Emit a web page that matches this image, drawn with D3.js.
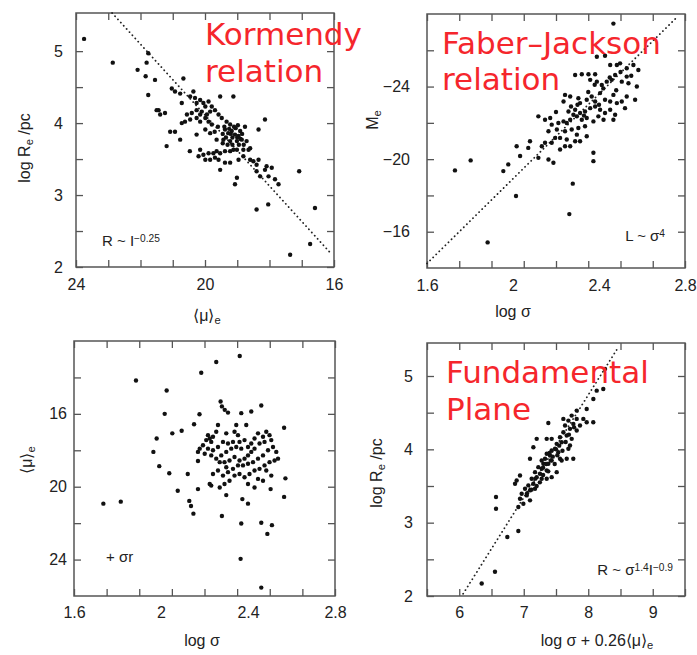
<!DOCTYPE html>
<html>
<head>
<meta charset="utf-8">
<script src="https://cdn.jsdelivr.net/npm/d3@7"></script>
<style>
  body { margin: 0; background: #fff; }
  svg text { font-family: "Liberation Sans", Arial, sans-serif; fill: #222; }
  .red { font-family: "DejaVu Sans", Verdana, sans-serif !important; fill: #f5262c !important; }
</style>
</head>
<body>
<div id="chart"></div>
<script>
// Kormendy relation: <mu>_e vs log R_e
const kormendyPts = [
  [23.75,5.17],[22.86,4.84],[22.09,4.74],[21.81,4.84],[21.76,4.97],[21.84,4.65],[21.76,4.39],[20.36,4.44],[20.26,3.84],[20.47,3.61],
  [18.40,2.80],[18.04,2.87],[17.08,3.33],[16.59,2.82],[16.74,2.32],[17.36,2.17],[17.93,3.38],
  [21.55,4.60],[21.03,4.48],[20.93,4.44],[20.77,4.41],[20.67,4.62],[20.72,4.28],[21.44,4.18],[21.24,4.14],[20.46,4.37],[20.31,4.35],
  [20.26,4.28],[20.15,4.32],[20.05,4.28],[19.99,4.23],[19.89,4.30],[19.79,4.23],[19.84,4.16],[19.69,4.18],[19.58,4.12],[19.53,4.37],
  [19.12,4.37],[19.48,4.07],[19.33,4.02],[19.22,3.98],[19.38,3.91],[19.17,3.89],[19.07,3.84],[18.96,3.82],[18.91,3.89],[18.76,3.95],
  [18.86,3.77],[19.01,3.75],[19.22,3.75],[19.43,3.77],[19.64,3.77],[19.84,3.86],[19.99,3.91],[19.79,3.98],[19.89,4.02],[20.15,4.02],
  [19.99,4.07],[20.26,4.07],[20.46,4.05],[20.62,4.02],[20.72,4.00],[20.56,4.12],[20.41,4.14],[20.26,4.18],[20.15,4.12],[20.10,4.16],
  [19.94,4.12],[18.14,4.05],[18.34,3.91],[18.71,3.75],[18.60,3.65],[18.65,3.63],[18.81,3.63],[19.01,3.63],[19.12,3.63],[19.22,3.61],
  [19.38,3.61],[19.53,3.58],[19.64,3.61],[19.74,3.58],[19.89,3.58],[20.05,3.56],[20.15,3.63],[20.20,3.54],[19.99,3.49],[19.84,3.49],
  [19.69,3.52],[19.58,3.49],[19.38,3.45],[19.22,3.45],[18.96,3.49],[18.81,3.54],[18.60,3.49],[18.50,3.47],[18.40,3.42],[18.34,3.49],
  [18.09,3.40],[18.14,3.35],[18.40,3.33],[18.29,3.26],[18.03,3.26],[17.83,3.22],[17.72,3.15],[19.53,3.35],[19.01,3.24],[19.07,3.15],
  [21.08,3.88],[20.93,3.88],[20.77,3.77],[21.19,3.68],[21.39,4.12],[21.50,4.18],
  [19.28,3.86],[19.15,3.80],[19.05,3.93],[19.30,3.70],[18.95,3.70],[19.45,3.85],[18.85,3.85],
  [19.40,3.95],[19.25,3.92],[19.10,3.95],[18.98,3.97],[19.35,3.80],[19.20,3.85],[19.00,3.80],[18.90,3.78],[19.45,3.72],[19.15,3.70],
  [18.80,3.70],[19.60,3.95],[19.70,3.88]
];
const kormendyFit = [[22.88,5.53],[16.12,2.2]];

// Faber-Jackson relation: log sigma vs M_e
const faberPts = [
  [2.467,-27.47],[1.730,-19.38],[1.803,-19.93],[1.882,-15.41],[2.014,-17.97],[2.262,-16.97],[2.278,-18.65],[1.955,-19.34],[1.978,-19.71],
  [2.390,-25.64],[2.428,-25.70],[2.452,-25.19],[2.483,-25.19],[2.498,-25.28],[2.529,-25.01],[2.560,-25.19],[2.583,-24.91],[2.529,-24.55],
  [2.506,-24.27],[2.537,-24.18],[2.576,-24.00],[2.475,-24.64],[2.459,-24.37],[2.436,-24.27],[2.413,-24.09],[2.390,-24.27],[2.359,-24.37],
  [2.289,-24.64],[2.320,-24.68],[2.351,-24.68],[2.382,-24.68],[2.242,-23.54],[2.235,-23.18],[2.266,-23.45],[2.304,-23.36],[2.312,-23.09],
  [2.343,-23.27],[2.366,-23.45],[2.382,-23.18],[2.405,-23.64],[2.428,-23.27],[2.452,-23.18],[2.467,-23.54],[2.483,-23.09],[2.506,-23.18],
  [2.529,-23.45],[2.568,-23.27],[2.521,-22.81],[2.258,-22.63],[2.289,-22.72],[2.312,-22.54],[2.335,-22.63],[2.359,-22.81],[2.382,-22.90],
  [2.405,-22.72],[2.428,-22.54],[2.452,-22.72],[2.475,-22.45],[2.421,-22.17],[2.397,-22.36],[2.374,-22.08],[2.343,-22.27],[2.320,-22.17],
  [2.297,-22.36],[2.281,-22.45],[2.266,-22.17],[2.250,-21.99],[2.467,-22.17],[2.118,-22.36],[2.149,-22.17],[2.173,-22.27],[2.180,-21.90],
  [2.211,-21.99],[2.235,-22.08],[2.204,-21.63],[2.242,-21.54],[2.273,-21.63],[2.304,-21.72],[2.335,-21.81],[2.165,-21.54],[2.196,-21.17],
  [2.219,-21.17],[2.250,-21.08],[2.289,-20.99],[2.266,-20.71],[2.242,-20.71],[2.219,-20.53],[2.180,-20.90],[2.149,-20.90],[2.134,-20.71],
  [2.312,-20.99],[2.343,-21.26],[2.297,-21.35],[2.017,-20.71],[2.079,-20.99],[2.071,-20.62],[2.033,-20.17],[2.118,-20.07],[2.165,-19.98],
  [2.374,-20.35],[2.374,-19.89],[2.188,-19.80],
  [2.45,-24.5],[2.50,-24.8],[2.42,-23.9],[2.48,-23.8],[2.35,-23.7],[2.30,-23.0],[2.40,-23.0],[2.33,-22.4],[2.27,-22.9],[2.55,-24.6],
  [2.20,-22.6],[2.38,-24.1]
];
const faberFit = [[1.6,-14.25],[2.765,-27.85]];

// <mu>_e vs log sigma
const muSigmaPts = [
  [1.735,20.93],[1.815,20.82],[1.885,14.17],[2.026,14.72],[2.017,16.0],[1.980,17.35],[1.965,18.09],[1.992,18.87],[2.038,19.26],[2.052,17.07],
  [2.095,16.93],[2.077,20.22],[2.123,19.30],[2.130,20.78],[2.138,21.06],[2.149,21.48],[2.152,16.57],[2.177,16.02],[2.170,20.13],[2.170,18.59],
  [2.185,13.74],[2.254,13.15],[2.362,12.82],[2.280,21.61],[2.366,23.96],[2.461,25.54],[2.369,22.02],[2.461,21.98],[2.489,22.59],[2.510,22.11],
  [2.566,20.56],[2.572,19.54],[2.566,16.76],[2.461,15.54],[2.415,15.87],[2.369,15.96],[2.274,15.32],[2.280,15.59],[2.293,15.78],[2.308,15.93],
  [2.504,20.13],[2.374,20.68],[2.400,20.93],[2.300,20.46],[2.231,19.94],
  [2.262,16.61],[2.254,16.98],[2.216,17.17],[2.224,17.35],[2.239,17.26],[2.208,17.44],[2.231,17.54],[2.300,17.07],[2.338,16.98],[2.354,17.17],
  [2.346,16.61],[2.392,16.61],[2.384,17.44],[2.361,17.54],[2.331,17.54],[2.308,17.63],[2.285,17.54],[2.262,17.82],[2.239,18.00],[2.216,17.91],
  [2.193,17.72],[2.178,17.91],[2.170,18.09],[2.201,18.19],[2.231,18.28],[2.254,18.46],[2.277,18.28],[2.300,18.09],[2.323,17.91],[2.346,17.82],
  [2.369,17.91],[2.400,17.82],[2.415,17.63],[2.430,17.35],[2.446,17.07],[2.469,17.26],[2.484,16.98],[2.499,17.17],[2.476,17.54],[2.453,17.63],
  [2.430,17.91],[2.415,18.09],[2.400,18.28],[2.384,18.46],[2.361,18.56],[2.338,18.37],[2.315,18.56],[2.292,18.65],[2.270,18.65],[2.300,18.93],
  [2.308,19.20],[2.285,19.39],[2.262,19.11],[2.239,19.30],[2.331,19.02],[2.354,18.83],[2.377,18.83],[2.400,18.74],[2.423,18.65],[2.446,18.46],
  [2.469,18.28],[2.492,18.00],[2.515,17.82],[2.507,17.44],[2.530,18.09],[2.538,18.46],[2.522,18.56],[2.499,18.65],[2.476,18.83],[2.453,19.02],
  [2.430,19.11],[2.407,19.30],[2.384,19.48],[2.361,19.30],[2.338,19.39],[2.315,19.67],[2.292,19.85],[2.270,20.04],[2.224,19.85],[2.400,19.85],
  [2.430,20.04],[2.446,19.57],[2.469,19.67],[2.484,19.11],[2.507,19.39]
];

// Fundamental plane: log sigma + 0.26<mu>_e vs log R_e
const fpPts = [
  [6.570,3.350],[6.570,3.190],[6.554,2.330],[6.348,2.170],[6.745,2.805],[6.916,2.887],[8.078,4.370],[8.131,4.800],[8.233,4.823],[8.260,5.095],
  [7.381,4.36],[7.201,4.143],[7.768,3.871],
  [7.821,4.528],[7.743,4.460],[7.821,4.415],[7.692,4.392],[7.769,4.347],[7.640,4.324],[7.717,4.279],[7.614,4.233],[7.666,4.188],[7.562,4.165],
  [7.588,4.097],[7.511,4.075],[7.485,4.007],[7.433,3.984],[7.536,3.961],[7.407,3.916],[7.356,3.939],[7.330,3.871],[7.433,3.848],[7.381,3.803],
  [7.304,3.803],[7.278,3.735],[7.226,3.757],[7.356,3.712],[7.252,3.667],[7.175,3.689],[7.201,3.621],[7.278,3.599],[7.123,3.599],[7.149,3.530],
  [7.071,3.508],[7.175,3.462],[7.097,3.440],[7.020,3.462],[6.968,3.394],[7.046,3.372],[6.942,3.326],[6.994,3.258],[6.916,3.213],[7.097,3.304],
  [7.356,3.599],[7.433,3.621],[7.511,3.689],[7.588,3.848],[7.666,3.871],[7.692,4.007],[7.743,4.143],[7.821,4.256],[7.924,4.415],[7.976,4.551],
  [8.079,4.687],[7.976,4.369],[7.614,4.415],[7.433,4.143],[7.356,4.143],[7.149,4.029],[7.562,3.871],[6.890,3.576],[6.942,3.644],[6.865,3.530],
  [7.872,4.324],[7.717,4.052],[7.097,3.871],[7.278,3.848],
  [7.40,3.95],[7.45,3.90],[7.35,3.80],[7.50,4.00],[7.30,3.75],[7.55,4.05],[7.42,3.85],
  [7.30,3.65],[7.25,3.55],[7.20,3.50],[7.38,3.70],[7.48,3.80],[7.52,3.92],[7.60,3.98],[7.65,4.10],[7.70,4.20],[7.78,4.30],
  [7.18,3.60],[7.12,3.45],[7.05,3.40]
];
const fpFit = [[6.06,2.03],[8.45,5.37]];

// axis ticks and labels
const muTicks = d3.range(16, 24.01, 1), muLabels = [24, 20, 16];
const logRTicks = d3.range(2, 5.01, 0.5), logRLabels = [2, 3, 4, 5];
const sigmaTicks = d3.range(9).map(i => 1.6 + i * 0.15), sigmaLabels = [1.6, 2, 2.4, 2.8];
const magTicks = [-16, -18, -20, -22, -24, -26], magLabels = [-24, -20, -16];
const muYTicks = [14, 16, 18, 20, 22, 24], muYLabels = [16, 20, 24];
const fpTicks = d3.range(5.5, 9.51, 0.5), fpLabels = [6, 7, 8, 9];

const W = 697, H = 655;
const svg = d3.select("#chart").append("svg").attr("width", W).attr("height", H);

function fmt(d) {
  return d < 0 ? "\u2212" + Math.abs(d) : String(d);
}

function drawPanel(p) {
  const x = d3.scaleLinear().domain(p.xDomain).range([p.left, p.right]);
  const y = d3.scaleLinear().domain(p.yDomain).range([p.bottom, p.top]);
  const g = svg.append("g");
  const tick = 7;

  // inward ticks on all four sides
  g.append("g").attr("transform", `translate(0,${p.bottom})`)
    .call(d3.axisBottom(x).tickValues(p.xTicks).tickSize(-tick).tickFormat(""));
  g.append("g").attr("transform", `translate(0,${p.top})`)
    .call(d3.axisTop(x).tickValues(p.xTicks).tickSize(-tick).tickFormat(""));
  g.append("g").attr("transform", `translate(${p.left},0)`)
    .call(d3.axisLeft(y).tickValues(p.yTicks).tickSize(-tick).tickFormat(""));
  g.append("g").attr("transform", `translate(${p.right},0)`)
    .call(d3.axisRight(y).tickValues(p.yTicks).tickSize(-tick).tickFormat(""));
  g.selectAll(".domain").remove();
  g.selectAll(".tick line").attr("stroke", "#555").attr("stroke-width", 1.3);

  // tick labels
  const xl = g.append("g").attr("transform", `translate(0,${p.bottom})`)
    .call(d3.axisBottom(x).tickValues(p.xLabels).tickSize(0).tickPadding(p.xPad).tickFormat(fmt));
  const yl = g.append("g").attr("transform", `translate(${p.left},0)`)
    .call(d3.axisLeft(y).tickValues(p.yLabels).tickSize(0).tickPadding(p.yPad).tickFormat(fmt));
  [xl, yl].forEach(a => {
    a.select(".domain").remove();
    a.selectAll("text").attr("font-size", 16).attr("fill", "#222")
      .style("font-family", "'Liberation Sans', Arial, sans-serif");
  });

  // frame
  g.append("rect")
    .attr("x", p.left).attr("y", p.top)
    .attr("width", p.right - p.left).attr("height", p.bottom - p.top)
    .attr("fill", "none").attr("stroke", "#555").attr("stroke-width", 1.5);

  // dotted fit line
  if (p.fit) {
    g.append("path")
      .attr("d", d3.line().x(d => x(d[0])).y(d => y(d[1]))(p.fit))
      .attr("fill", "none").attr("stroke", "#222").attr("stroke-width", 1.8)
      .attr("stroke-linecap", "round").attr("stroke-dasharray", "0.1,4.2");
  }

  // data points
  g.selectAll("circle.pt")
    .data(p.pts)
    .enter()
    .append("circle")
    .attr("class", "pt")
    .attr("cx", d => x(d[0]))
    .attr("cy", d => y(d[1]))
    .attr("r", 2.2)
    .attr("fill", "#111");

  return g;
}

drawPanel({
  left: 76, right: 334, top: 13, bottom: 267,
  xDomain: [24, 16], yDomain: [2, 5.53],
  xTicks: muTicks, xLabels: muLabels, yTicks: logRTicks, yLabels: logRLabels,
  xPad: 12, yPad: 13, pts: kormendyPts, fit: kormendyFit
});
drawPanel({
  left: 427, right: 685, top: 14, bottom: 268,
  xDomain: [1.6, 2.8], yDomain: [-14, -28],
  xTicks: sigmaTicks, xLabels: sigmaLabels, yTicks: magTicks, yLabels: magLabels,
  xPad: 12, yPad: 17, pts: faberPts, fit: faberFit
});
drawPanel({
  left: 74, right: 335, top: 341, bottom: 596,
  xDomain: [1.6, 2.8], yDomain: [26, 12],
  xTicks: sigmaTicks, xLabels: sigmaLabels, yTicks: muYTicks, yLabels: muYLabels,
  xPad: 11, yPad: 7, pts: muSigmaPts, fit: null
});
drawPanel({
  left: 427, right: 685, top: 343, bottom: 596,
  xDomain: [5.5, 9.5], yDomain: [2, 5.45],
  xTicks: fpTicks, xLabels: fpLabels, yTicks: logRTicks, yLabels: logRLabels,
  xPad: 11, yPad: 14, pts: fpPts, fit: fpFit
});

// axis titles
function label(x, y, parts, opts = {}) {
  const t = svg.append("text")
    .attr("x", x).attr("y", y)
    .attr("font-size", opts.size || 16)
    .attr("text-anchor", opts.anchor || "middle");
  if (opts.rotate) t.attr("transform", `rotate(-90,${x},${y})`);
  parts.forEach(pt => {
    const s = t.append("tspan").text(pt.t);
    if (pt.sub) s.attr("font-size", (opts.size || 16) * 0.7).attr("baseline-shift", "-25%");
    if (pt.sup) s.attr("font-size", (opts.size || 16) * 0.68).attr("baseline-shift", "45%");
  });
  return t;
}

const logRe = [{t: "log R"}, {t: "e", sub: true}, {t: " /pc"}];
const muE = [{t: "\u27E8\u03BC\u27E9"}, {t: "e", sub: true}];

label(30, 148, logRe, {rotate: true});
label(207, 321, muE);
label(378, 120, [{t: "M"}, {t: "e", sub: true}], {rotate: true});
label(513, 317, [{t: "log \u03C3"}]);
label(32, 460, muE, {rotate: true});
label(202, 646, [{t: "log \u03C3"}]);
label(382, 473, logRe, {rotate: true});
label(597, 646, [{t: "log \u03C3 + 0.26"}, {t: "\u27E8\u03BC\u27E9"}, {t: "e", sub: true}]);

// scaling-law annotations
label(102, 246, [{t: "R ~ I"}, {t: "\u22120.25", sup: true}], {anchor: "start", size: 15});
label(665, 241, [{t: "L ~ \u03C3"}, {t: "4", sup: true}], {anchor: "end", size: 15});
label(673, 575, [{t: "R ~ \u03C3"}, {t: "1.4", sup: true}, {t: "I"}, {t: "\u22120.9", sup: true}], {anchor: "end", size: 15});
label(106, 562, [{t: "+ \u03C3r"}], {anchor: "start", size: 15});

// red titles
const titles = [
  {x: 205, y: 45, t: "Kormendy"}, {x: 205, y: 82, t: "relation"},
  {x: 442, y: 54, t: "Faber\u2013Jackson"}, {x: 442, y: 90, t: "relation"},
  {x: 446, y: 383, t: "Fundamental"}, {x: 446, y: 420, t: "Plane"}
];
svg.selectAll("text.red")
  .data(titles)
  .enter()
  .append("text")
  .attr("class", "red")
  .attr("x", d => d.x).attr("y", d => d.y)
  .attr("font-size", 31)
  .text(d => d.t);
</script>
</body>
</html>
